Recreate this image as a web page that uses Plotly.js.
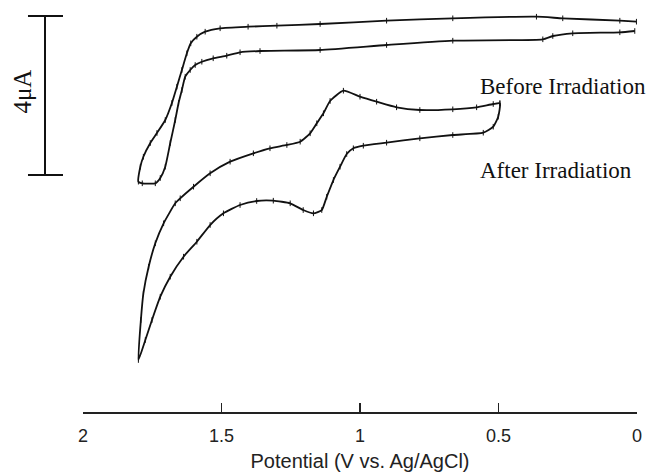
<!DOCTYPE html>
<html>
<head>
<meta charset="utf-8">
<script src="https://cdn.plot.ly/plotly-3.0.1.min.js"></script>
<style>html,body{margin:0;padding:0;background:#fff;}#chart{width:649px;height:472px;}</style>
</head>
<body>
<div id="chart"></div>
<script>
// Potential (V vs. Ag/AgCl) and current (uA, arbitrary offset)
const beforeV = [0.002,0.062,0.268,0.363,0.665,0.904,1.144,1.300,1.404,1.505,1.559,1.589,1.611,1.625,1.643,1.661,1.679,1.703,1.733,1.757,1.782,1.793,1.800,1.786,1.739,1.721,1.703,1.685,1.667,1.655,1.643,1.631,1.613,1.595,1.571,1.530,1.481,1.433,1.361,1.144,0.904,0.665,0.340,0.304,0.232,0.062,0.008];
const beforeI = [9.857,9.882,9.942,9.982,9.942,9.882,9.799,9.756,9.731,9.691,9.605,9.479,9.313,9.062,8.642,8.221,7.811,7.384,7.057,6.805,6.460,6.209,5.832,5.791,5.791,5.925,6.209,6.805,7.384,7.811,8.138,8.473,8.642,8.767,8.850,8.936,9.001,9.087,9.119,9.145,9.270,9.379,9.414,9.497,9.565,9.590,9.623];

const afterV = [0.495,0.519,0.579,0.665,0.784,0.868,0.940,1.000,1.060,1.108,1.132,1.156,1.180,1.216,1.264,1.325,1.385,1.469,1.541,1.601,1.649,1.667,1.709,1.739,1.763,1.782,1.791,1.800,
                1.775,1.751,1.721,1.685,1.637,1.589,1.541,1.493,1.433,1.373,1.313,1.252,1.205,1.168,1.138,1.120,1.096,1.072,1.048,1.024,0.988,0.904,0.784,0.665,0.555,0.519,0.501,0.495];
const afterI = [7.804,7.786,7.703,7.653,7.635,7.703,7.844,7.970,8.121,7.862,7.552,7.301,7.049,6.838,6.755,6.672,6.546,6.335,6.043,5.706,5.414,5.288,4.785,4.282,3.693,3.024,2.352,1.346,
                1.849,2.352,2.938,3.442,3.945,4.322,4.742,5.036,5.245,5.346,5.354,5.288,5.119,5.036,5.119,5.454,5.874,6.209,6.528,6.672,6.737,6.813,6.923,7.006,7.064,7.215,7.467,7.804];

const xTickVals = [2, 1.5, 1, 0.5, 0];
const xTickText = ['2', '1.5', '1', '0.5', '0'];
const seriesLabels = ['Before Irradiation', 'After Irradiation'];
const seriesLabelPos = [[0.8658, 8.22], [0.8532, 6.11]]; // [paper x, current] of each label
const scaleBar = [6, 10];   // 4 uA scale bar (uA)
const scaleBarText = '4\u03bcA';
const xTitle = 'Potential (V vs. Ag/AgCl)';

const lineStyle = {color: '#111', width: 1.8, shape: 'spline', smoothing: 0.5};
const markerStyle = {symbol: 'line-ns-open', size: 4, color: '#111', line: {color: '#111', width: 1}};

const traces = [
  {x: beforeV, y: beforeI, mode: 'lines+markers', line: lineStyle, marker: markerStyle, hoverinfo: 'skip', name: seriesLabels[0]},
  {x: afterV, y: afterI, mode: 'lines+markers', line: lineStyle, marker: markerStyle, hoverinfo: 'skip', name: seriesLabels[1]}
];

const barX = -0.0686, capL = -0.0993, capR = -0.0361;
const layout = {
  width: 649, height: 472,
  margin: {l: 83, r: 12, t: 10, b: 60},
  paper_bgcolor: '#fff', plot_bgcolor: '#fff',
  showlegend: false,
  xaxis: {
    range: [2, 0], showgrid: false, zeroline: false,
    showline: true, linecolor: '#222', linewidth: 1.5,
    ticks: 'inside', ticklen: 9, tickwidth: 1.5, tickcolor: '#222',
    tickvals: xTickVals, ticktext: xTickText, ticklabelstandoff: 7,
    tickfont: {family: 'Liberation Sans, Arial, sans-serif', size: 18, color: '#222'},
    title: {text: xTitle, font: {family: 'Liberation Sans, Arial, sans-serif', size: 20, color: '#222'}, standoff: 9},
    fixedrange: true, automargin: false
  },
  yaxis: {range: [0.038, 10.151], visible: false, fixedrange: true},
  shapes: [
    {type: 'line', xref: 'paper', yref: 'y', x0: barX, x1: barX, y0: scaleBar[0], y1: scaleBar[1], line: {color: '#111', width: 2}},
    {type: 'line', xref: 'paper', yref: 'y', x0: capL, x1: capR, y0: scaleBar[1], y1: scaleBar[1], line: {color: '#111', width: 2}},
    {type: 'line', xref: 'paper', yref: 'y', x0: capL, x1: capR, y0: scaleBar[0], y1: scaleBar[0], line: {color: '#111', width: 2}}
  ],
  annotations: [
    {xref: 'paper', yref: 'y', x: -0.110, y: (scaleBar[0] + scaleBar[1]) / 2 + 0.1, text: scaleBarText, textangle: -90, showarrow: false,
     xanchor: 'center', yanchor: 'middle', font: {family: 'Liberation Serif, Times New Roman, serif', size: 25, color: '#111'}},
    {xref: 'paper', yref: 'y', x: seriesLabelPos[0][0], y: seriesLabelPos[0][1], text: seriesLabels[0], showarrow: false,
     xanchor: 'center', yanchor: 'middle', font: {family: 'Liberation Serif, Times New Roman, serif', size: 23, color: '#111'}},
    {xref: 'paper', yref: 'y', x: seriesLabelPos[1][0], y: seriesLabelPos[1][1], text: seriesLabels[1], showarrow: false,
     xanchor: 'center', yanchor: 'middle', font: {family: 'Liberation Serif, Times New Roman, serif', size: 23, color: '#111'}}
  ]
};

Plotly.newPlot('chart', traces, layout, {staticPlot: true, displayModeBar: false});
</script>
</body>
</html>
